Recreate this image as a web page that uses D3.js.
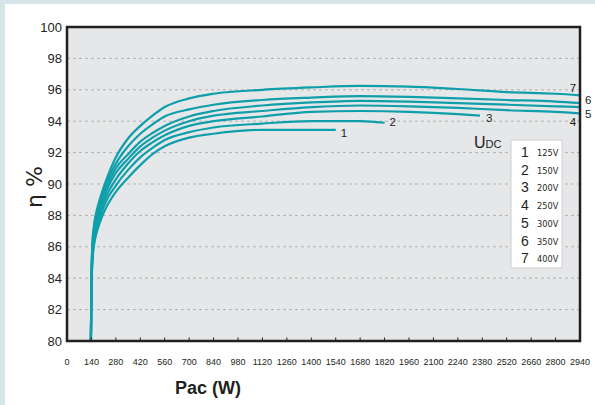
<!DOCTYPE html>
<html><head><meta charset="utf-8">
<script src="https://cdn.jsdelivr.net/npm/d3@7"></script>
<style>html,body{margin:0;padding:0;background:#d6e6e8;}svg{display:block;}</style>
</head><body>
<svg id="chart" width="595" height="405"></svg>
<script>
// ---- data ----
const powerW = [137,140,145,155,170,190,220,280,350,420,490,560,700,840,1120,1400,1680,1960,2240,2520,2800,2940];
const curve1 = [80,83.0,84.9,86.1,86.9,87.6,88.4,89.5,90.4,91.2,91.9,92.4,92.95,93.2,93.45,93.45,null,null,null,null,null,null];
const curve2 = [80,83.2,85.1,86.4,87.2,87.9,88.8,89.9,90.9,91.7,92.3,92.8,93.3,93.6,93.85,94.0,94.0,null,null,null,null,null];
const curve3 = [80,83.4,85.3,86.6,87.5,88.2,89.1,90.3,91.3,92.1,92.65,93.1,93.7,94.0,94.3,94.6,94.65,94.6,94.45,null,null,null];
const curve4 = [80,83.5,85.5,86.8,87.7,88.4,89.4,90.7,91.6,92.4,92.95,93.4,94.0,94.35,94.65,94.9,95.0,94.95,94.85,94.7,94.6,94.5];
const curve5 = [80,83.6,85.6,87.0,87.9,88.6,89.6,91.0,91.9,92.7,93.25,93.7,94.3,94.65,95.0,95.2,95.3,95.25,95.15,95.05,94.95,94.9];
const curve6 = [80,83.8,85.9,87.2,88.1,88.9,89.9,91.3,92.4,93.2,93.8,94.3,94.75,95.05,95.35,95.5,95.6,95.55,95.45,95.35,95.25,95.15];
const curve7 = [80,84.0,86.1,87.4,88.3,89.1,90.1,91.7,92.9,93.7,94.35,94.9,95.45,95.75,96.0,96.15,96.25,96.2,96.05,95.85,95.75,95.65];
// extra end points where a curve stops between the grid columns
const curveEnds = [[1540,93.45],[1820,93.9],[2367,94.35],null,null,null,null];
const curveNames = ["1","2","3","4","5","6","7"];
const voltages = ["125V","150V","200V","250V","300V","350V","400V"];
const xTicks = [0,140,280,420,560,700,840,980,1120,1260,1400,1540,1680,1820,1960,2100,2240,2380,2520,2660,2800,2940];
const yTicks = [80,82,84,86,88,90,92,94,96,98,100];

const svg = d3.select("#chart");
svg.append("rect").attr("x",5).attr("y",4).attr("width",590).attr("height",401).attr("fill","#ffffff");

const L=67, R=580, T=27, B=341;
const x = d3.scaleLinear().domain([0,2940]).range([L,R]);
const y = d3.scaleLinear().domain([80,100]).range([B,T]);

svg.append("rect").attr("x",L).attr("y",T).attr("width",R-L).attr("height",B-T).attr("fill","#e6e7e8");

// gridlines
svg.append("g").selectAll("line").data(yTicks.filter(v=>v>80&&v<100)).join("line")
  .attr("x1",L).attr("x2",R).attr("y1",d=>y(d)).attr("y2",d=>y(d))
  .attr("stroke","#b3b3b3").attr("stroke-width",1).attr("stroke-dasharray","3,3");

// legend box (white, above gridlines)
const lg = svg.append("g");
lg.append("rect").attr("x",511).attr("y",140).attr("width",51).attr("height",128)
  .attr("fill","#ffffff").attr("stroke","#cfcfcf").attr("stroke-width",1);
curveNames.forEach((n,i)=>{
  const yy = 157 + i*17.7;
  lg.append("text").attr("x",525).attr("y",yy).attr("text-anchor","middle")
    .attr("font-family","Liberation Sans, Arial, sans-serif").attr("font-size",14).attr("fill","#231f20").text(n);
  lg.append("text").attr("x",537).attr("y",yy-1).attr("font-family","DejaVu Sans, sans-serif")
    .attr("font-size",8.2).attr("fill","#231f20").text(voltages[i]);
});
const ut = svg.append("text").attr("x",474).attr("y",148).attr("font-family","Liberation Sans, Arial, sans-serif").attr("fill","#231f20");
ut.append("tspan").attr("font-size",16).text("U");
ut.append("tspan").attr("font-size",11).text("DC");

// curves
const all = [curve1,curve2,curve3,curve4,curve5,curve6,curve7];
const line = d3.line().x(d=>x(d[0])).y(d=>y(d[1])).curve(d3.curveMonotoneX);
const series = all.map((vals,i)=>{
  const pts = powerW.map((w,j)=>[w,vals[j]]).filter(p=>p[1]!==null);
  if (curveEnds[i]) pts.push(curveEnds[i]);
  return pts;
});
svg.append("g").selectAll("path").data(series).join("path")
  .attr("d",line).attr("fill","none").attr("stroke","#0e9fab").attr("stroke-width",2.2)
  .attr("stroke-linecap","butt");

// curve labels (offsets from each curve's end point)
const labOff = [[5,3],[5,-1],[6,2],[-7,9],[5,6.5],[5,-3.5],[-7,-7]];
series.forEach((pts,i)=>{
  const e = pts[pts.length-1];
  const px = x(e[0]) + labOff[i][0], py = y(e[1]) + labOff[i][1];
  svg.append("text").attr("x",px).attr("y",py).attr("dy","0.35em")
    .attr("font-family","Liberation Sans, Arial, sans-serif").attr("font-size",11.5).attr("fill","#231f20")
    .attr("text-anchor", i===3||i===6 ? "middle" : "start").text(curveNames[i]);
});

// frame
svg.append("rect").attr("x",L).attr("y",T).attr("width",R-L).attr("height",B-T)
  .attr("fill","none").attr("stroke","#231f20").attr("stroke-width",2.5);

// x ticks inward
svg.append("g").selectAll("line").data(xTicks.filter(v=>v>0&&v<2940)).join("line")
  .attr("x1",d=>x(d)).attr("x2",d=>x(d)).attr("y1",B).attr("y2",B-3.5)
  .attr("stroke","#231f20").attr("stroke-width",1);

// x tick labels
svg.append("g").selectAll("text").data(xTicks).join("text")
  .attr("x",d=>x(d)).attr("y",365).attr("text-anchor","middle")
  .attr("font-family","Liberation Sans, Arial, sans-serif").attr("font-size",9).attr("fill","#231f20")
  .text(d=>d);

// y tick labels
svg.append("g").selectAll("text").data(yTicks).join("text")
  .attr("x",62).attr("y",d=>y(d)).attr("dy","0.35em").attr("text-anchor","end")
  .attr("font-family","Liberation Sans, Arial, sans-serif").attr("font-size",13).attr("fill","#231f20")
  .text(d=>d);

// axis titles
svg.append("text").attr("transform","translate(42,187) rotate(-90)").attr("text-anchor","middle")
  .attr("font-family","DejaVu Sans, sans-serif").attr("font-size",22).attr("fill","#231f20").text("η %");
svg.append("text").attr("x",208).attr("y",394).attr("text-anchor","middle")
  .attr("font-family","Liberation Sans, Arial, sans-serif").attr("font-weight","bold").attr("font-size",18)
  .attr("fill","#231f20").text("Pac (W)");
</script>
</body></html>
